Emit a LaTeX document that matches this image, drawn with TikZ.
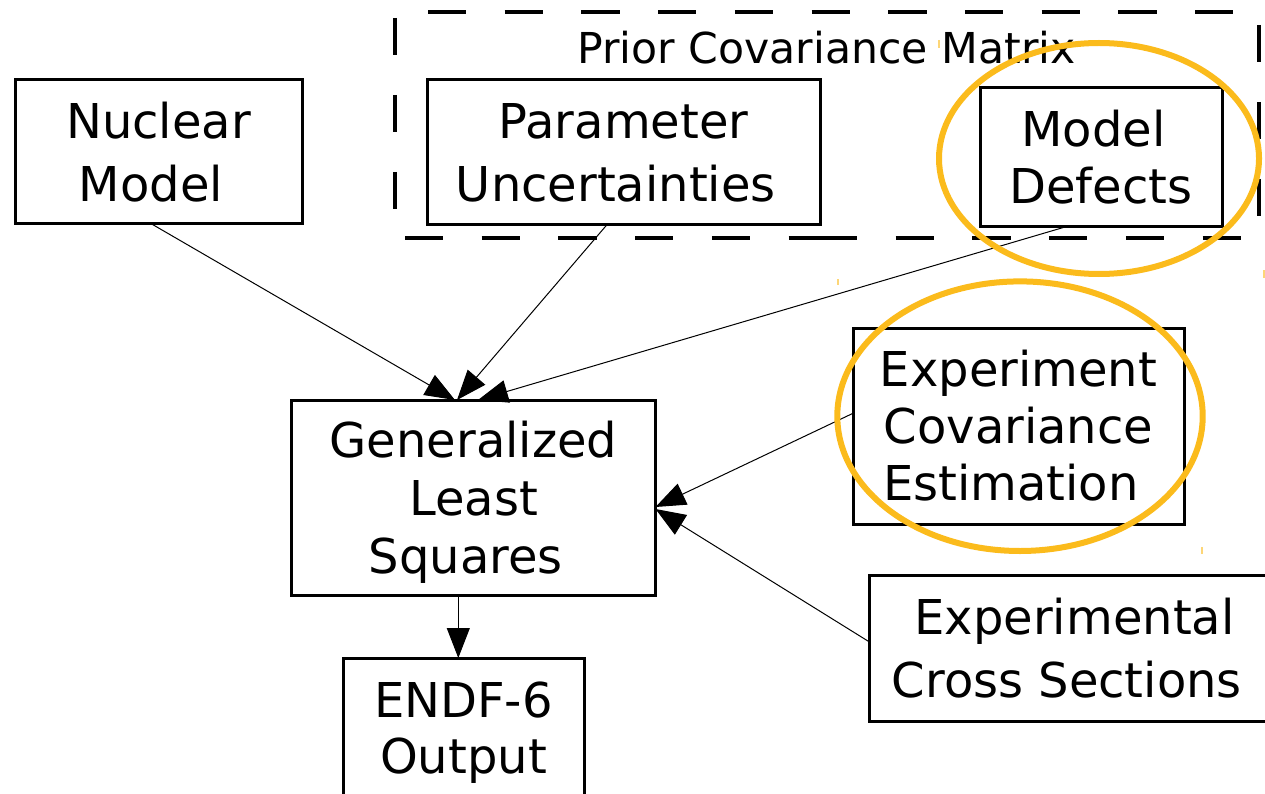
\documentclass[tikz,border=0pt]{standalone}
\usepackage{fontspec}
\setmainfont{DejaVu Sans}
\usetikzlibrary{arrows.meta}
\definecolor{hl}{RGB}{251,187,28}
\newcommand{\tsp}{\rule{0.318em}{0pt}}
\begin{document}
\begin{tikzpicture}[x=1pt,y=-1pt,
  box/.style={draw, line width=3pt, inner sep=0pt, outer sep=0pt, align=center,
              font=\fontsize{48}{63}\selectfont},
  conn/.style={line width=1pt, -{Triangle[length=30pt,width=23pt]}},
  dashline/.style={line width=3.5pt, dash pattern=on 38.3pt off 38.4pt},
  vdashline/.style={line width=3.5pt, dash pattern=on 37pt off 40pt},
  ring/.style={draw=hl, line width=6pt},
  ticky/.style={draw=hl!60, line width=1.5pt}]
\useasboundingbox (0,0) rectangle (1265,794);

% dashed group frame
\draw[dashline] (428,12) -- (1236,12);
\draw[dashline] (405,238) -- (827,238);
\draw[dashline] (819,238) -- (1241,238);
\draw[vdashline] (395,18) -- (395,209);
\draw[vdashline] (1259,25) -- (1259,217);
\node[font=\fontsize{42.6}{50}\selectfont, anchor=base, inner sep=0pt] (title) at (826.5,63.3) {Prior Covariance Matrix};

% boxes
\node[box, minimum width=287pt, minimum height=144pt] (nuc) at (158.5,152) {Nuclear\\Model\tsp};
\node[box, minimum width=393pt, minimum height=145pt] (par) at (623.5,152.5) {Parameter\\Uncertainties\tsp};
\node[box, minimum width=242pt, minimum height=139pt, font=\fontsize{48}{57}\selectfont] (md) at (1101,157.5) {Model\tsp\\Defects};
\node[box, minimum width=364pt, minimum height=195pt, font=\fontsize{48}{58}\selectfont] (gls) at (473.5,497.5) {Generalized\\Least\\\raisebox{0pt}[\height][0pt]{Squares\tsp}};
\node[box, minimum width=331pt, minimum height=196pt, font=\fontsize{48}{57}\selectfont] (ec) at (1018.5,426) {Experiment\\Covariance\\Estimation\tsp};
\node[box, minimum width=411pt, minimum height=146pt] (cs) at (1074.5,648) {Experimental\\Cross Sections\tsp};
\node[box, minimum width=241pt, minimum height=149.4pt, font=\fontsize{48}{56}\selectfont] (endf) at (463.5,732.7) {ENDF-6\\Output};

% connectors
\draw[conn] ([xshift=-6.8pt]nuc.south) -- ([xshift=-18.5pt]gls.north);
\draw[conn] ([xshift=-16.8pt]par.south) -- ([xshift=-16.5pt]gls.north);
\draw[conn] ([xshift=-36pt]md.south) -- ([xshift=4.5pt]gls.north);
\draw[conn] ([yshift=12.7pt]ec.west) -- ([yshift=-9.5pt]gls.east);
\draw[conn] ([yshift=6.3pt]cs.west) -- ([yshift=-11.5pt]gls.east);
\draw[conn] ([xshift=-15.2pt]gls.south) -- ([xshift=-5.2pt]endf.north);

% highlight rings
\draw[ring] (1099,158.5) ellipse [x radius=160pt, y radius=115.5pt];
\draw[ring] (1020,416.2) ellipse [x radius=182.7pt, y radius=134.8pt];
\draw[ticky] (939,40) -- (939,48);
\draw[ticky] (1264,270) -- (1264,278);
\draw[ticky] (838,279) -- (838,285);
\draw[ticky] (1202,547) -- (1202,554);
\end{tikzpicture}
\end{document}
